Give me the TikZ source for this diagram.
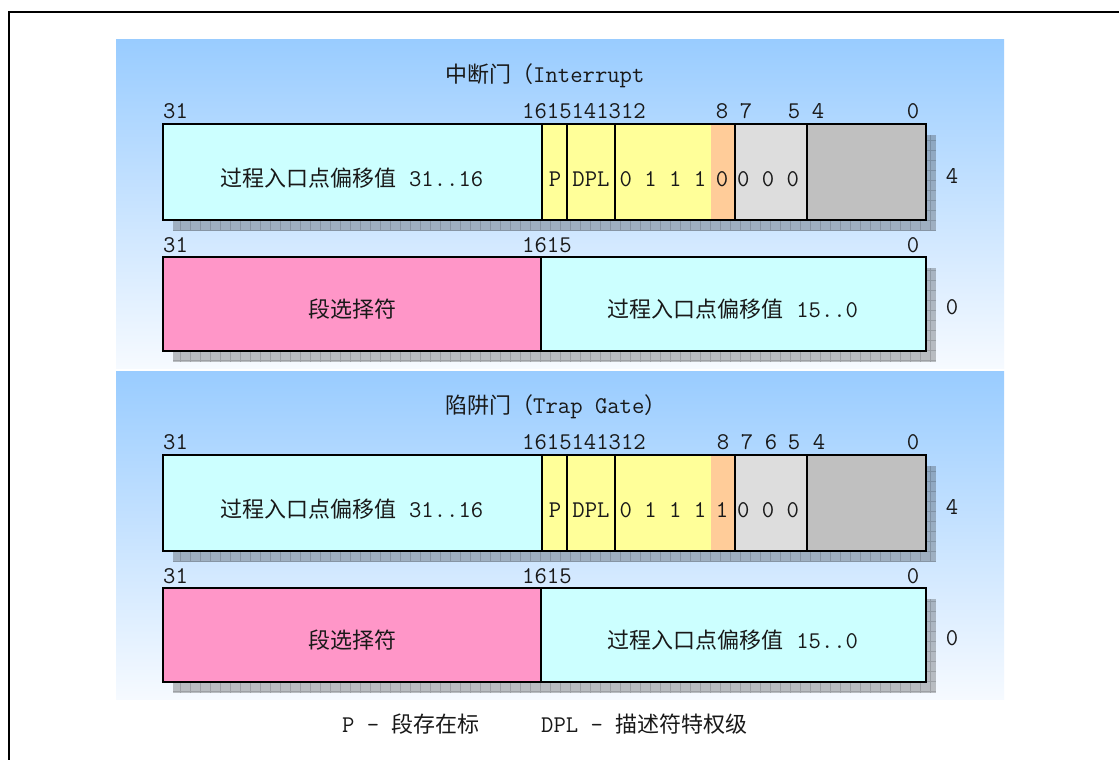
\documentclass[tikz,border=0pt]{standalone}
\usepackage{fontspec}
\newfontfamily\cjk{Noto Sans CJK SC}
\definecolor{fcyan}{RGB}{204,255,255}
\definecolor{fyellow}{RGB}{255,255,153}
\definecolor{forange}{RGB}{255,204,153}
\definecolor{flgray}{RGB}{221,221,221}
\definecolor{fdgray}{RGB}{192,192,192}
\definecolor{fpink}{RGB}{255,150,200}
\definecolor{bgtop}{RGB}{153,204,255}
\definecolor{bgmid}{RGB}{196,224,255}
\definecolor{bgbot}{RGB}{246,250,255}
\newcommand\zh[1]{{\cjk\fontsize{22}{26}\selectfont #1}}
\tikzset{
  every node/.style={inner sep=0pt, font=\ttfamily\fontsize{24}{28}\selectfont\addfontfeature{FakeStretch=0.92}, text=black!90},
  txt/.style={anchor=base},
  txtw/.style={anchor=base west},
  field/.style={draw=black, line width=2.2pt},
  shadowfill/.style={fill=black!80, fill opacity=0.3},
  shadowgrid/.style={draw=black, draw opacity=0.15, line width=0.6pt},
}
\newcommand\shadowrect[4]{%
  \fill[shadowfill] (#1,#2) rectangle (#3,#4);
  \begin{scope}
    \clip (#1,#2) rectangle (#3,#4);
    \draw[shadowgrid, step=10pt] (#1,#2) grid (#3,#4);
  \end{scope}}
\newcommand\gate[5]{%
\begin{scope}[yshift=#2]
  \shade[top color=bgtop, middle color=bgmid, bottom color=bgbot] (116,40) rectangle (1004,368);
  \node[txtw] (#1title) at (445,82) {#3};
  % shadows
  \shadowrect{173}{135}{936}{231}
  \shadowrect{173}{268}{936}{362}
  % row high dword
  \fill[fcyan] (163,124) rectangle (542,220);
  \fill[fyellow] (542,124) rectangle (711,220);
  \fill[forange] (711,124) rectangle (735,220);
  \fill[flgray] (735,124) rectangle (807,220);
  \fill[fdgray] (807,124) rectangle (926,220);
  \draw[field] (163,124) rectangle (926,220);
  \draw[field] (542,124) -- (542,220) (567,124) -- (567,220) (615,124) -- (615,220)
               (735,124) -- (735,220) (807,124) -- (807,220);
  \node[txtw] (#1b31) at (163,118) {31};
  \node[txtw] (#1b16) at (522,118) {1615141312};
  \foreach \px/\pt [count=\i] in {#5} \node[txt] (#1bit\i) at (\px,118) {\pt};
  \node[txt] (#1b0) at (913,118) {0};
  \node[txt] (#1off) at (352,186) {\zh{过程入口点偏移值} 31..16};
  \node[txt] (#1p) at (555,186) {P};
  \node[txt] (#1dpl) at (591,186) {DPL};
  \node[txt] (#1type) at (663,186) {0 1 1 1};
  \node[txt] (#1tb) at (722,186) {#4};
  \node[txt] (#1zero) at (768,186) {0 0 0};
  \node[txt] (#1d4) at (952,183) {4};
  % row low dword
  \fill[fpink] (163,257) rectangle (541,351);
  \fill[fcyan] (541,257) rectangle (926,351);
  \draw[field] (163,257) rectangle (926,351) (541,257) -- (541,351);
  \node[txtw] (#1c31) at (163,252) {31};
  \node[txtw] (#1c16) at (522,252) {1615};
  \node[txt] (#1c0) at (913,252) {0};
  \node[txt] (#1sel) at (352,317) {\zh{段选择符}};
  \node[txt] (#1low) at (733,317) {\zh{过程入口点偏移值} 15..0};
  \node[txt] (#1d0) at (952,314) {0};
\end{scope}}
\begin{document}
\begin{tikzpicture}[x=1pt, y=-1pt]
  \useasboundingbox (0,0) rectangle (1119,760);
  \fill[white] (0,0) rectangle (1119,760);
  \draw[line width=2pt] (1119,12) -- (9,12) -- (9,760);
  \gate{i}{0pt}{\zh{中断门（}Interrupt}{0}{722/8,746/7,794/5,818/4}
  \gate{t}{-331pt}{\zh{陷阱门（}Trap Gate\zh{）}}{1}{723/8,747/7,771/6,794/5,819/4}
  \node[txtw] (legP) at (342,732) {P - \zh{段存在标}};
  \node[txtw] (legD) at (541,732) {DPL - \zh{描述符特权级}};
\end{tikzpicture}
\end{document}
